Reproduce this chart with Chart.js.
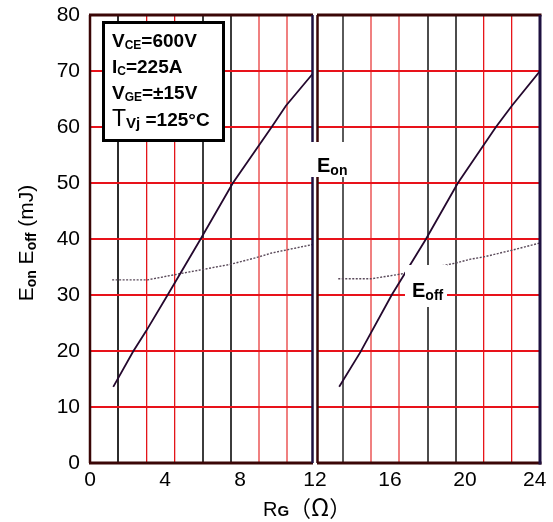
<!DOCTYPE html>
<html>
<head>
<meta charset="utf-8">
<title>Eon Eoff vs RG</title>
<script src="https://cdn.jsdelivr.net/npm/chart.js@4/dist/chart.umd.min.js"></script>
<style>
  html, body { margin: 0; padding: 0; background: #fff; }
  #wrap { width: 553px; height: 522px; }
</style>
</head>
<body>
<div id="wrap"><canvas id="eChart" width="553" height="522"></canvas></div>
<script>
// switching energy vs gate resistance, drawn twice (0-12 and 12-24 ohm panels)
const eonLeftRg  = [1.24, 2.3, 3.0, 4.14, 5.9, 7.62, 9.69, 10.45, 12];
const eonLeftE   = [13.6, 19.9, 23.6, 30, 40, 50, 60, 63.8, 70];
const eonRightRg = [13.29, 14.42, 16.09, 17.92, 19.62, 21.65, 22.5, 24];
const eonRightE  = [13.6, 19.8, 30, 40, 50, 60, 63.8, 70];

const eoffLeftRg  = [1.18, 3.07, 4.47, 5.92, 7.53, 9.0, 9.69, 12];
const eoffLeftE   = [32.7, 32.7, 33.6, 34.5, 35.5, 36.8, 37.5, 39.1];
const eoffRightRg = [13.24, 15.0, 16.6, 19.5, 20.3, 21.0, 22.5, 24];
const eoffRightE  = [32.9, 32.9, 33.75, 35.7, 36.4, 36.8, 38.0, 39.3];

const xTicks = [0, 4, 8, 12, 16, 20, 24];
const yTicks = [0, 10, 20, 30, 40, 50, 60, 70, 80];

const FONT = '"Liberation Sans", Arial, "Noto Sans CJK SC", sans-serif';
const CJK = '"Noto Sans CJK SC", sans-serif';

// colours of the vertical grid lines, by position
const vLineColor = {
  1.5: '#2c2c2c', 3: '#e4141a', 4.5: '#e4141a', 6: '#3c3c3c', 7.5: '#3c3c3c',
  9: '#f08080', 10.5: '#f08080',
  13.5: '#5a5a5a', 15: '#f08080', 16.5: '#f08080', 18: '#4c4c4c', 19.5: '#4c4c4c',
  21: '#e8141a', 22.5: '#e8141a'
};

function pts(xs, ys) {
  return xs.map((x, i) => ({ x: x, y: ys[i] }));
}

// draw a run of text pieces (main text + subscripts) starting at x, baseline y
function drawRun(ctx, parts, x, y) {
  let cx = x;
  parts.forEach(p => {
    ctx.font = (p.bold ? 'bold ' : '') + p.size + 'px ' + (p.family || FONT);
    ctx.fillText(p.t, cx, y + (p.dy || 0));
    cx += ctx.measureText(p.t).width;
  });
  return cx;
}
function runWidth(ctx, parts) {
  let w = 0;
  parts.forEach(p => {
    ctx.font = (p.bold ? 'bold ' : '') + p.size + 'px ' + (p.family || FONT);
    w += ctx.measureText(p.t).width;
  });
  return w;
}

const frame = {
  id: 'frame',
  afterDatasetsDraw(chart) {
    const ctx = chart.ctx;
    const a = chart.chartArea;
    const xs = chart.scales.x;
    const mid = xs.getPixelForValue(12);
    ctx.save();

    // gap between the two panels
    ctx.fillStyle = '#fff';
    ctx.fillRect(mid - 2, a.top - 3, 4, a.bottom - a.top + 6);

    const line = (x1, y1, x2, y2, c, w) => {
      ctx.strokeStyle = c; ctx.lineWidth = w;
      ctx.beginPath(); ctx.moveTo(x1, y1); ctx.lineTo(x2, y2); ctx.stroke();
    };
    const maroon = '#3a0606', navy = '#1e1040';
    // top / bottom borders
    line(a.left - 1, a.top, mid - 2, a.top, maroon, 3);
    line(mid + 2, a.top, a.right + 1.5, a.top, maroon, 3);
    line(a.left - 1, a.bottom, mid - 2, a.bottom, maroon, 3);
    line(mid + 2, a.bottom, a.right + 1.5, a.bottom, maroon, 3);
    // side borders
    line(a.left, a.top, a.left, a.bottom, maroon, 2.5);
    line(mid - 2.5, a.top, mid - 2.5, a.bottom, navy, 2.5);
    line(mid + 2.5, a.top, mid + 2.5, a.bottom, maroon, 2.5);
    line(a.right, a.top, a.right, a.bottom + 1.5, navy, 3);

    // condition box
    ctx.fillStyle = '#fff';
    ctx.fillRect(102, 21, 122, 121);
    ctx.strokeStyle = '#000'; ctx.lineWidth = 3;
    ctx.strokeRect(103.5, 22.5, 120, 118);
    ctx.fillStyle = '#000';
    ctx.textBaseline = 'alphabetic';
    ctx.textAlign = 'left';
    drawRun(ctx, [{ t: 'V', size: 19, bold: true }, { t: 'CE', size: 12, bold: true, dy: 1.5 }, { t: '=600V', size: 19, bold: true }], 112, 47);
    drawRun(ctx, [{ t: 'I', size: 19, bold: true }, { t: 'C', size: 12, bold: true, dy: 1.5 }, { t: '=225A', size: 19, bold: true }], 112, 73);
    drawRun(ctx, [{ t: 'V', size: 19, bold: true }, { t: 'GE', size: 12, bold: true, dy: 1.5 }, { t: '=±15V', size: 19, bold: true }], 112, 99);
    drawRun(ctx, [{ t: 'T', size: 23 }, { t: 'Vj', size: 15, bold: true, dy: 1.5 }, { t: ' =125°C', size: 19, bold: true }], 112, 126);

    // curve labels
    ctx.fillStyle = '#fff';
    ctx.fillRect(307, 142, 43, 35);
    ctx.fillRect(405, 265, 42, 42);
    ctx.fillStyle = '#000';
    drawRun(ctx, [{ t: 'E', size: 20, bold: true }, { t: 'on', size: 14, bold: true, dy: 3 }], 317, 172);
    drawRun(ctx, [{ t: 'E', size: 20, bold: true }, { t: 'off', size: 14, bold: true, dy: 3 }], 412, 297);

    // axis titles
    const yTitle = [
      { t: 'E', size: 21 }, { t: 'on', size: 14, bold: true, dy: 3 },
      { t: ' E', size: 21 }, { t: 'off', size: 14, bold: true, dy: 3 },
      { t: ' (mJ)', size: 21 }
    ];
    ctx.save();
    ctx.translate(33, 243);
    ctx.rotate(-Math.PI / 2);
    drawRun(ctx, yTitle, -runWidth(ctx, yTitle) / 2, 0);
    ctx.restore();

    drawRun(ctx, [
      { t: 'R', size: 20 }, { t: 'G', size: 15, bold: true },
      { t: '（', size: 22, family: CJK }, { t: 'Ω', size: 24, family: CJK }, { t: '）', size: 22, family: CJK }
    ], 263, 516);

    ctx.restore();
  }
};

new Chart(document.getElementById('eChart'), {
  type: 'line',
  data: {
    datasets: [
      { label: 'Eon', data: pts(eonLeftRg, eonLeftE), borderColor: '#24082e', borderWidth: 1.8 },
      { label: 'Eon', data: pts(eonRightRg, eonRightE), borderColor: '#24082e', borderWidth: 1.8 },
      { label: 'Eoff', data: pts(eoffLeftRg, eoffLeftE), borderColor: '#5a4a5a', borderWidth: 1.4, borderDash: [2, 1.5] },
      { label: 'Eoff', data: pts(eoffRightRg, eoffRightE), borderColor: '#5a4a5a', borderWidth: 1.4, borderDash: [2, 1.5] }
    ]
  },
  options: {
    responsive: false,
    animation: false,
    layout: { padding: { left: 0, right: 13, top: 15, bottom: 0 } },
    elements: {
      point: { radius: 0 },
      line: { tension: 0, fill: false }
    },
    plugins: {
      legend: { display: false },
      tooltip: { enabled: false }
    },
    scales: {
      x: {
        type: 'linear', min: 0, max: 24, position: 'bottom',
        afterBuildTicks(s) { s.ticks = xTicks.map(v => ({ value: v })); },
        ticks: {
          font: { size: 21, family: FONT }, color: '#000', padding: 5, maxRotation: 0, autoSkip: false,
          // last label sits a little inside the frame
          callback: v => v === 24 ? '24\u2002' : String(v)
        },
        grid: { display: false, drawTicks: false },
        border: { display: false },
        afterFit(s) { s.height = 59; s.paddingLeft = 0; s.paddingRight = 0; }
      },
      xg: {
        type: 'linear', min: 0, max: 24, position: 'bottom',
        ticks: { display: false, stepSize: 1.5 },
        grid: {
          drawTicks: false,
          color: c => vLineColor[c.tick.value] || 'rgba(0,0,0,0)',
          lineWidth: c => {
            const col = vLineColor[c.tick.value];
            return col && col.startsWith('#e') ? 1.3 : 2;
          }
        },
        border: { display: false },
        afterFit(s) { s.height = 0; s.paddingLeft = 0; s.paddingRight = 0; }
      },
      y: {
        min: 0, max: 80,
        afterBuildTicks(s) { s.ticks = yTicks.map(v => ({ value: v })); },
        ticks: { font: { size: 21, family: FONT }, color: '#000', padding: 10 },
        grid: {
          drawTicks: false,
          color: c => (c.tick.value === 0 || c.tick.value === 80) ? 'rgba(0,0,0,0)' : '#e8121a',
          lineWidth: 2
        },
        border: { display: false },
        afterFit(s) { s.width = 90; s.paddingTop = 0; s.paddingBottom = 0; }
      }
    }
  },
  plugins: [frame]
});
</script>
</body>
</html>
